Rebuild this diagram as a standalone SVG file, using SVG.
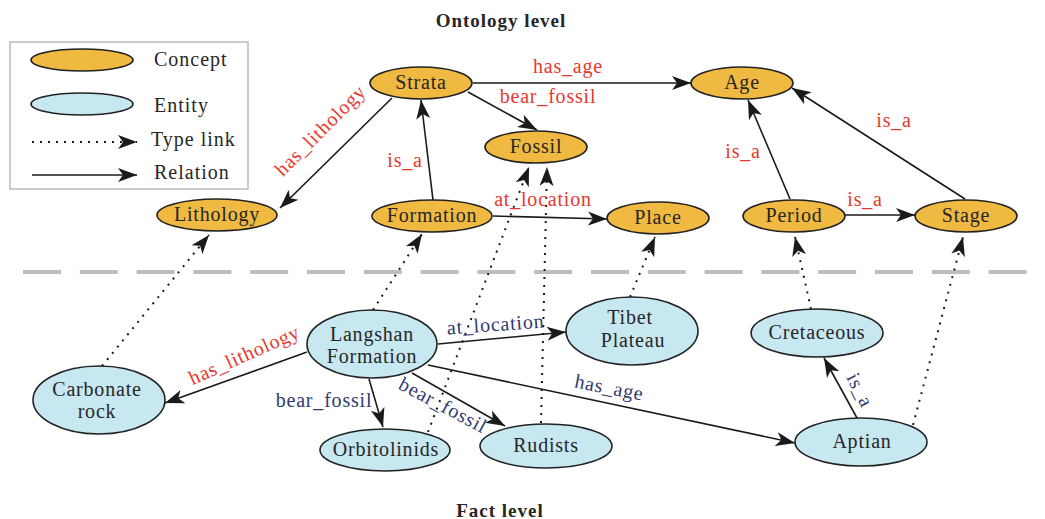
<svg xmlns="http://www.w3.org/2000/svg" width="1045" height="519" viewBox="0 0 1045 519">
<defs>
<style>
.concept{fill:#EFB942;stroke:#222;stroke-width:1.6}
.entity{fill:#C8E8F1;stroke:#222;stroke-width:1.6}
.lbl{font-family:"Liberation Serif","Times New Roman",serif;font-size:20px;fill:#262626;text-anchor:middle;letter-spacing:0.8px}
.red{font-family:"Liberation Serif","Times New Roman",serif;font-size:20px;fill:#E8372C;text-anchor:middle;letter-spacing:0.8px}
.navy{font-family:"Liberation Serif","Times New Roman",serif;font-size:20px;fill:#2F3A70;text-anchor:middle;letter-spacing:0.8px}
.leg{font-family:"Liberation Serif","Times New Roman",serif;font-size:20px;fill:#262626;letter-spacing:1px}
.title{font-family:"Liberation Serif","Times New Roman",serif;font-size:19px;font-weight:bold;fill:#262626;text-anchor:middle;letter-spacing:1px}
.rel{stroke:#1a1a1a;stroke-width:1.6;fill:none;marker-end:url(#ah)}
.typ{stroke:#1a1a1a;stroke-width:2;fill:none;stroke-dasharray:2 6;marker-end:url(#ah)}
</style>
<marker id="ah" markerUnits="userSpaceOnUse" markerWidth="20" markerHeight="16" viewBox="0 0 20 16" refX="19" refY="8" orient="auto">
<path d="M0,1 L19,8 L0,15 L5,8 Z" fill="#1a1a1a" stroke="none"/>
</marker>
</defs>
<rect width="1045" height="519" fill="#fff"/>

<text class="title" x="501" y="27">Ontology level</text>
<text class="title" x="500" y="517">Fact level</text>

<g id="legend">
<rect x="10" y="42" width="238" height="147" fill="#fff" stroke="#BBBBBB" stroke-width="1.5"/>
<ellipse class="concept" cx="82" cy="60" rx="51" ry="11"/>
<ellipse class="entity" cx="82" cy="104" rx="51" ry="11"/>
<line class="typ" x1="32" y1="142" x2="137" y2="142"/>
<line class="rel" x1="32" y1="175" x2="137" y2="175"/>
<text class="leg" x="154" y="66">Concept</text>
<text class="leg" x="154" y="112">Entity</text>
<text class="leg" x="151" y="146">Type link</text>
<text class="leg" x="154" y="179">Relation</text>
</g>

<line id="separator" x1="23" y1="272" x2="1045" y2="272" stroke="#BEBEBE" stroke-width="4" stroke-dasharray="38 18.8"/>

<g id="connectors">
<line class="rel" x1="473" y1="83" x2="691" y2="83"/>
<line class="rel" x1="468" y1="92" x2="537" y2="130"/>
<line class="rel" x1="392" y1="98" x2="280" y2="208"/>
<line class="rel" x1="433" y1="200" x2="421" y2="100"/>
<line class="rel" x1="493" y1="216" x2="607" y2="219"/>
<line class="rel" x1="790" y1="199" x2="748" y2="100"/>
<line class="rel" x1="845" y1="215" x2="915" y2="215"/>
<line class="rel" x1="965" y1="199" x2="792" y2="88"/>

<line class="rel" x1="307" y1="352" x2="165" y2="403"/>
<line class="rel" x1="369" y1="379" x2="383" y2="427"/>
<line class="rel" x1="412" y1="373" x2="505" y2="426"/>
<line class="rel" x1="438" y1="344" x2="566" y2="332"/>
<line class="rel" x1="428" y1="365" x2="795" y2="443"/>
<line class="rel" x1="857" y1="418" x2="824" y2="358"/>

<line class="typ" x1="102" y1="366" x2="209" y2="235"/>
<line class="typ" x1="373" y1="310" x2="422" y2="234"/>
<line class="typ" x1="428" y1="432" x2="529" y2="167"/>
<line class="typ" x1="541" y1="423" x2="547" y2="167"/>
<line class="typ" x1="630" y1="297" x2="655" y2="237"/>
<line class="typ" x1="811" y1="309" x2="795" y2="237"/>
<line class="typ" x1="913" y1="425" x2="963" y2="237"/>

<text class="red" x="568" y="73">has_age</text>
<text class="red" x="548" y="103">bear_fossil</text>
<text class="red" transform="translate(325,135) rotate(-45)">has_lithology</text>
<text class="red" x="405" y="167">is_a</text>
<text class="red" x="543" y="206">at_location</text>
<text class="red" x="743" y="158">is_a</text>
<text class="red" x="894" y="127">is_a</text>
<text class="red" x="865" y="206">is_a</text>

<text class="red" transform="translate(247,361) rotate(-24)">has_lithology</text>
<text class="navy" x="324" y="407">bear_fossil</text>
<text class="navy" transform="translate(440,411) rotate(28)">bear_fossil</text>
<text class="navy" transform="translate(496,331) rotate(-4)">at_location</text>
<text class="navy" transform="translate(608,394) rotate(11)">has_age</text>
<text class="navy" transform="translate(854,393) rotate(63)">is_a</text>
</g>

<g id="strata"><ellipse class="concept" cx="421" cy="83" rx="51" ry="16"/><text class="lbl" x="421" y="89">Strata</text></g>
<g id="fossil"><ellipse class="concept" cx="536" cy="147" rx="51" ry="16"/><text class="lbl" x="536" y="153">Fossil</text></g>
<g id="lithology"><ellipse class="concept" cx="217" cy="215" rx="60" ry="16"/><text class="lbl" x="217" y="221">Lithology</text></g>
<g id="formation"><ellipse class="concept" cx="432" cy="216" rx="60" ry="16"/><text class="lbl" x="432" y="222">Formation</text></g>
<g id="place"><ellipse class="concept" cx="658" cy="218" rx="51" ry="16"/><text class="lbl" x="658" y="224">Place</text></g>
<g id="age"><ellipse class="concept" cx="742" cy="83" rx="51" ry="16"/><text class="lbl" x="742" y="89">Age</text></g>
<g id="period"><ellipse class="concept" cx="794" cy="216" rx="51" ry="16"/><text class="lbl" x="794" y="222">Period</text></g>
<g id="stage"><ellipse class="concept" cx="966" cy="216" rx="51" ry="16"/><text class="lbl" x="966" y="222">Stage</text></g>

<g id="langshan"><ellipse class="entity" cx="372" cy="344" rx="65" ry="34"/><text class="lbl" x="372" y="341">Langshan</text><text class="lbl" x="372" y="363">Formation</text></g>
<g id="carbonate"><ellipse class="entity" cx="99" cy="400" rx="66" ry="34"/><text class="lbl" x="97" y="396">Carbonate</text><text class="lbl" x="97" y="418">rock</text></g>
<g id="orbitolinids"><ellipse class="entity" cx="385" cy="450" rx="65" ry="21"/><text class="lbl" x="386" y="456">Orbitolinids</text></g>
<g id="rudists"><ellipse class="entity" cx="546" cy="446" rx="66" ry="22"/><text class="lbl" x="546" y="452">Rudists</text></g>
<g id="tibet"><ellipse class="entity" cx="632" cy="331" rx="66" ry="34"/><text class="lbl" x="630" y="324">Tibet</text><text class="lbl" x="633" y="347">Plateau</text></g>
<g id="cretaceous"><ellipse class="entity" cx="817" cy="333" rx="66" ry="24"/><text class="lbl" x="817" y="339">Cretaceous</text></g>
<g id="aptian"><ellipse class="entity" cx="861" cy="442" rx="66" ry="24"/><text class="lbl" x="862" y="448">Aptian</text></g>
</svg>
